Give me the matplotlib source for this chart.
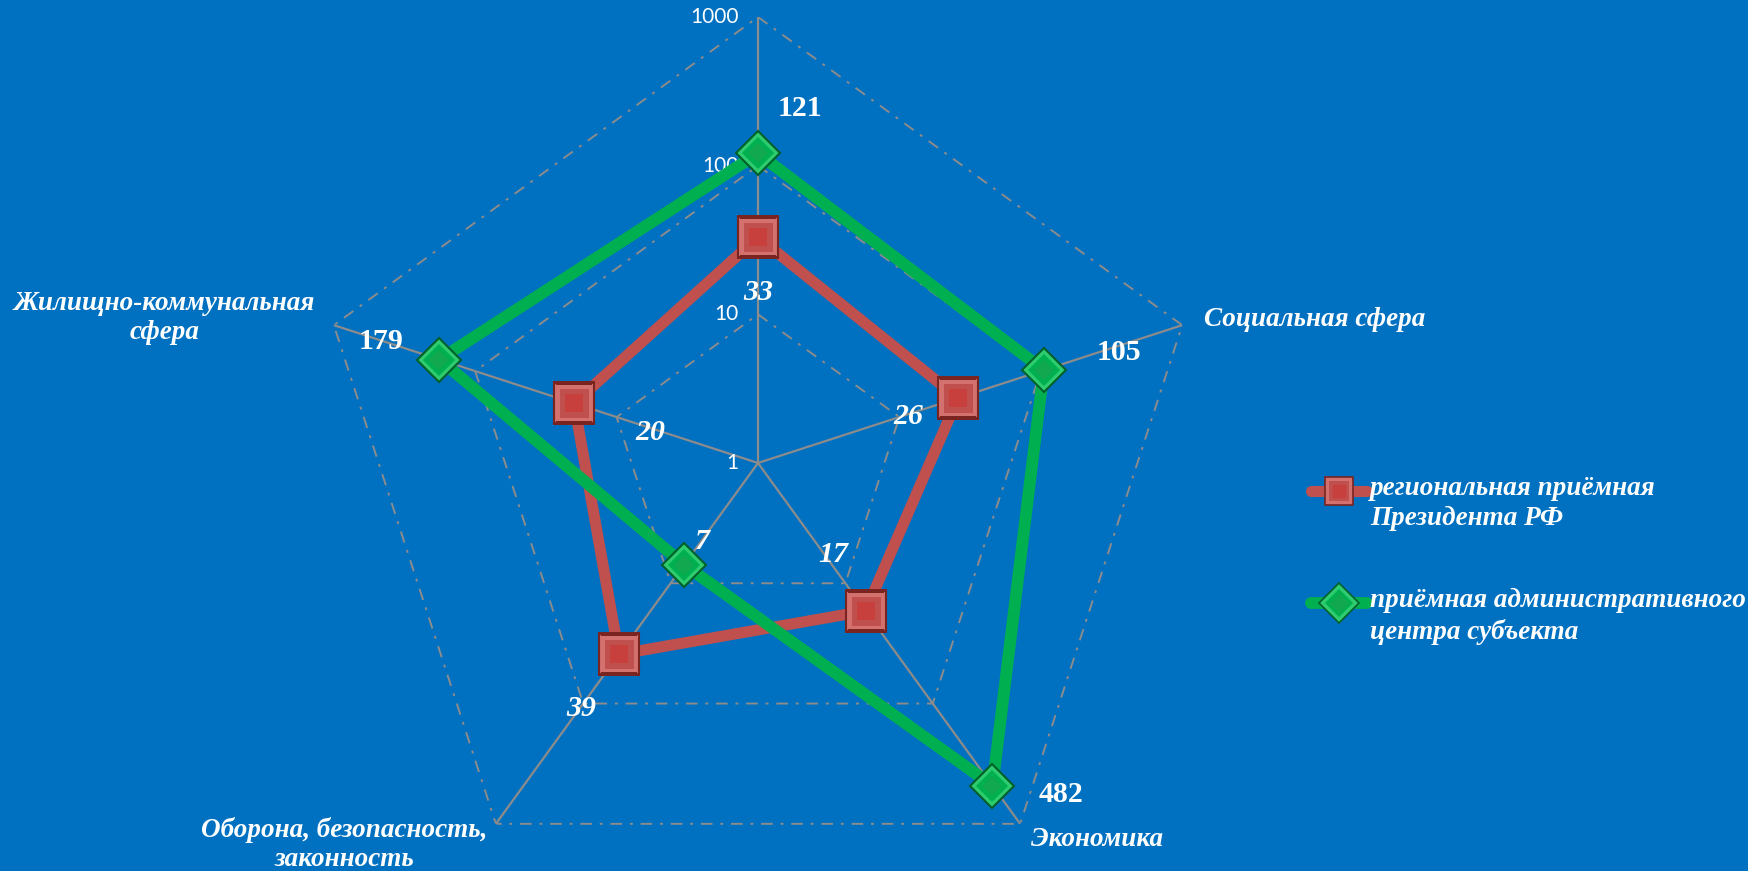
import numpy as np
import matplotlib
matplotlib.use("Agg")
import matplotlib.pyplot as plt
from matplotlib.lines import Line2D

# axis order: top, then clockwise
categories = ["", "Социальная сфера", "Экономика",
              "Оборона, безопасность,\nзаконность", "Жилищно-коммунальная\nсфера"]
regional = [33, 26, 17, 39, 20]
admin_center = [121, 105, 482, 7, 179]
series_names = ["региональная приёмная\nПрезидента РФ",
                "приёмная административного\nцентра субъекта"]
r_ticks = [1, 10, 100, 1000]
r_tick_labels = ["1", "10", "100", "1000"]

BG = "#0070C0"
RED = "#C0504D"
GREEN = "#00B050"
GRID = "#8C8C8C"

serif_bi = dict(family="Liberation Serif", weight="bold", style="italic", color="white")

W, H = 1748, 871
fig = plt.figure(figsize=(W / 100, H / 100), dpi=100, facecolor=BG)

# polar axes: centre at (758, 463) px from top-left, radius 446 px
cx, cy, R = 758, 463, 446
ax = fig.add_axes([(cx - R) / W, (H - cy - R) / H, 2 * R / W, 2 * R / H],
                  projection="polar")
ax.set_facecolor("none")
ax.set_theta_zero_location("N")
ax.set_theta_direction(-1)
ax.set_rscale("log")
ax.set_rlim(1, 1000)
ax.grid(False)
ax.spines["polar"].set_visible(False)
ax.set_xticks([])
ax.set_yticks([])

n = len(categories)
angles = np.arange(n) * 2 * np.pi / n

# spokes
for a in angles:
    ax.plot([a, a], [1, 1000], color=GRID, lw=1.6, zorder=1)

# pentagon grid
closed = np.append(angles, angles[0])
for rt in r_ticks[1:]:
    ax.plot(closed, [rt] * (n + 1), color=GRID, lw=1.4, ls=(0, (6, 4, 1.5, 4)), zorder=1)

# radial tick labels
for rt, lab in zip(r_ticks, r_tick_labels):
    ax.annotate(lab, (0, rt), xytext=(-14, 0), textcoords="offset points",
                ha="right", va="center", color="white", fontsize=15, family="Lato",
                annotation_clip=False)


def draw_series(vals, color, dark, light, marker, ms, inner_color, lw):
    v = np.append(vals, vals[0])
    ax.plot(closed, v, color=color, lw=lw, solid_joinstyle="miter", zorder=3)
    ax.plot(angles, vals, ls="none", marker=marker, ms=ms, mfc=light, mec=dark,
            mew=1.5, zorder=4)
    ax.plot(angles, vals, ls="none", marker=marker, ms=ms * 0.72, mfc=color,
            mec=color, mew=0, zorder=5)
    ax.plot(angles, vals, ls="none", marker=marker, ms=ms * 0.45, mfc=inner_color,
            mec=inner_color, mew=0, zorder=5)


draw_series(regional, RED, "#7A2422", "#D2716E", "s", 29, "#C8403D", 8)
draw_series(admin_center, GREEN, "#00602A", "#2ECC6E", "D", 22, "#12A850", 8.5)

# value labels
red_off = [(0, -40), (-36, -13), (-23, 41), (-27, -39), (55, -21)]
green_off = [(30, 32), (54, 13), (49, -6), (13, 17), (-42, 13)]
for a, v, off in zip(angles, regional, red_off):
    ax.annotate(str(v), (a, v), xytext=off, textcoords="offset points",
                ha="center", va="center", fontsize=21.5, zorder=6, **serif_bi)
for a, v, off in zip(angles, admin_center, green_off):
    st = "italic" if v < 10 else "normal"
    ax.annotate(str(v), (a, v), xytext=off, textcoords="offset points",
                ha="center", va="center", fontsize=21.5, zorder=6,
                family="Liberation Serif", weight="bold", style=st, color="white")

# category labels
cat_off = [(0, 0), (16, 4), (8, -11), (-109, -15), (-122, 5)]
cat_ha = ["center", "left", "left", "center", "center"]
for a, lab, off, ha in zip(angles, categories, cat_off, cat_ha):
    if not lab:
        continue
    ax.annotate(lab, (a, 1000), xytext=off, textcoords="offset points",
                ha=ha, va="center", ma="center", fontsize=19.5, linespacing=1.2,
                annotation_clip=False, **serif_bi)

# legend drawn in pixel coordinates
lax = fig.add_axes([0, 0, 1, 1])
lax.set_xlim(0, W)
lax.set_ylim(H, 0)
lax.axis("off")
leg = [(RED, "#7A2422", "#D2716E", "s", 20, "#C8403D", 491, 8),
       (GREEN, "#00602A", "#2ECC6E", "D", 20, "#12A850", 603, 8.5)]
for (c, d, lt, m, ms, ic, y, lw), name in zip(leg, series_names):
    lax.add_line(Line2D([1311, 1367], [y, y], color=c, lw=lw, solid_capstyle="round"))
    lax.add_line(Line2D([1339], [y], marker=m, ms=ms, mfc=lt, mec=d, mew=1.2, ls="none"))
    lax.add_line(Line2D([1339], [y], marker=m, ms=ms * 0.72, mfc=c, mec=c, mew=0, ls="none"))
    lax.add_line(Line2D([1339], [y], marker=m, ms=ms * 0.45, mfc=ic, mec=ic, ls="none"))
    lax.text(1370, y - 15, name, ha="left", va="top", fontsize=19.5,
             linespacing=1.28, **serif_bi)

fig.savefig("out.png", dpi=100, facecolor=BG)
